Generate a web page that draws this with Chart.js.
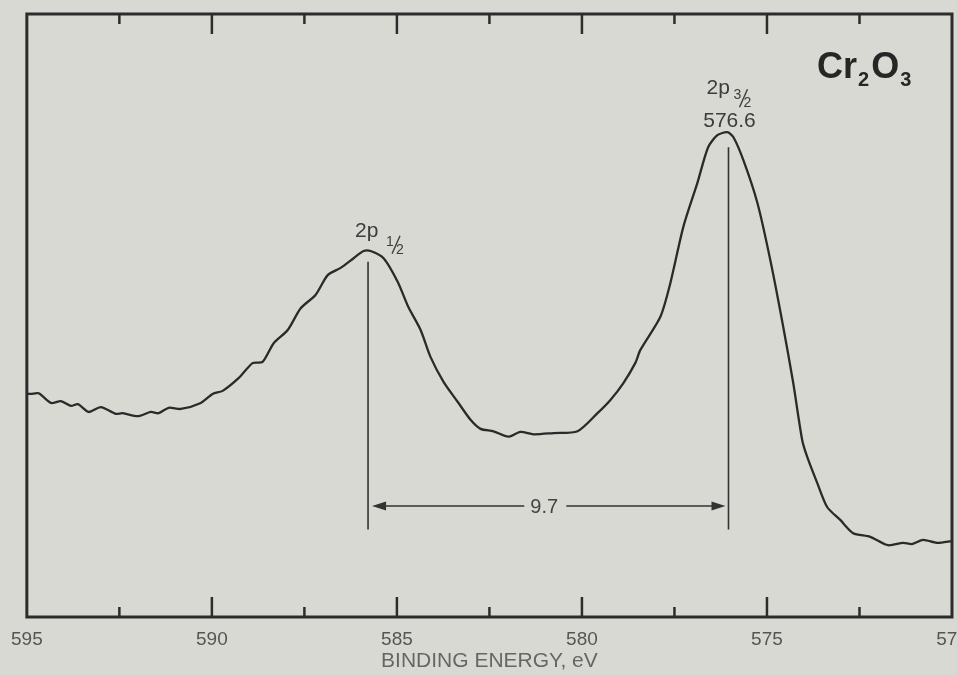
<!DOCTYPE html>
<html><head><meta charset="utf-8">
<script src="https://cdn.jsdelivr.net/npm/chart.js@4"></script>
<style>
html,body{margin:0;padding:0;overflow:hidden;background:#d9d9d4;}
#wrap{width:990px;height:675px;}
</style></head><body>
<div id="wrap"><canvas id="c" width="990" height="675"></canvas></div>
<script>
// Binding energy (eV) and intensity (arbitrary units)
const energy = [595.0,594.89,594.68,594.35,594.08,593.81,593.62,593.33,593.00,592.60,592.41,592.00,591.65,591.44,591.17,590.84,590.30,589.98,589.71,589.28,588.90,588.63,588.33,587.95,587.60,587.20,586.87,586.52,586.17,585.90,585.71,585.36,584.98,584.69,584.36,584.09,583.74,583.36,583.01,582.74,582.39,581.99,581.66,581.31,580.77,580.12,579.58,579.23,578.88,578.56,578.42,577.88,577.61,577.26,576.88,576.59,576.34,576.07,575.91,575.64,575.26,574.91,574.56,574.29,574.05,573.91,573.64,573.37,573.02,572.67,572.21,571.73,571.32,571.08,570.78,570.40,570.0];
const intensity = [37.0,37.0,37.1,35.5,35.8,35.0,35.3,34.0,34.8,33.7,33.8,33.3,34.0,33.8,34.7,34.5,35.5,37.0,37.5,39.6,42.1,42.3,45.4,47.6,51.2,53.4,56.7,57.9,59.5,60.7,60.7,59.5,55.6,51.4,47.6,43.1,39.0,35.7,32.7,31.2,30.8,29.9,30.7,30.3,30.5,30.8,33.8,36.0,38.8,42.1,44.3,49.8,55.4,64.7,72.0,77.9,79.9,80.4,79.6,75.8,68.7,59.2,48.1,38.8,29.4,26.5,22.2,18.2,16.1,13.9,13.3,11.9,12.3,12.1,12.8,12.3,12.6];
const tickLabels = [595,590,585,580,575,570];
const tickMarks = [592.5,590,587.5,585,582.5,580,577.5,575,572.5];
const peakNames = ['2p', '2p'];
const peakFractions = [['1','2'], ['3','2']];
const peakValueLabels = ['', '576.6'];
const peakPositions = [585.78, 576.04];
const peakLineTops = [58.9, 77.9];
const markerBottom = 14.5;
const splitLevel = 18.4;
const splitLabel = '9.7';
const compoundParts = [['Cr',false],['2',true],['O',false],['3',true]];
const axisTitle = 'BINDING ENERGY, eV';

const FONT = '"Liberation Sans", Arial, Helvetica, sans-serif';
const INK = '#2c2c2c';

function drawFrac(ctx, num, den, x, base){
  ctx.font = '14px ' + FONT;
  ctx.textAlign = 'left'; ctx.textBaseline = 'alphabetic';
  ctx.fillText(num, x, base);
  ctx.beginPath(); ctx.lineWidth = 1.4;
  ctx.moveTo(x + 6, base + 8); ctx.lineTo(x + 14, base - 10); ctx.stroke();
  ctx.fillText(den, x + 10, base + 8);
}

const annot = {
  id: 'annot',
  afterDraw(chart){
    const {ctx, chartArea: a, scales: {x, y}} = chart;
    ctx.save();
    ctx.strokeStyle = INK; ctx.lineWidth = 3;
    ctx.strokeRect(a.left, a.top, a.right - a.left, a.bottom - a.top);
    ctx.lineWidth = 2.5;
    tickMarks.forEach(v => {
      const px = x.getPixelForValue(v);
      const len = (v % 5 === 0) ? 20 : 10;
      ctx.beginPath();
      ctx.moveTo(px, a.top); ctx.lineTo(px, a.top + len);
      ctx.moveTo(px, a.bottom); ctx.lineTo(px, a.bottom - len);
      ctx.stroke();
    });
    ctx.strokeStyle = '#333'; ctx.lineWidth = 1.6;
    const px = peakPositions.map(v => x.getPixelForValue(v));
    peakPositions.forEach((v, i) => {
      ctx.beginPath();
      ctx.moveTo(px[i], y.getPixelForValue(peakLineTops[i]));
      ctx.lineTo(px[i], y.getPixelForValue(markerBottom));
      ctx.stroke();
    });
    const ay = y.getPixelForValue(splitLevel);
    const mid = (px[0] + px[1]) / 2;
    const l = Math.min(px[0], px[1]) + 4, r = Math.max(px[0], px[1]) - 3;
    ctx.beginPath();
    ctx.moveTo(l + 10, ay); ctx.lineTo(mid - 24, ay);
    ctx.moveTo(mid + 18, ay); ctx.lineTo(r - 10, ay);
    ctx.stroke();
    ctx.fillStyle = '#333';
    ctx.beginPath(); ctx.moveTo(l, ay); ctx.lineTo(l + 14, ay - 4.5); ctx.lineTo(l + 14, ay + 4.5); ctx.closePath(); ctx.fill();
    ctx.beginPath(); ctx.moveTo(r, ay); ctx.lineTo(r - 14, ay - 4.5); ctx.lineTo(r - 14, ay + 4.5); ctx.closePath(); ctx.fill();
    ctx.fillStyle = '#444';
    ctx.font = '20px ' + FONT; ctx.textAlign = 'center'; ctx.textBaseline = 'middle';
    ctx.fillText(splitLabel, mid - 4, ay + 1);
    ctx.fillStyle = '#3c3c3c'; ctx.strokeStyle = '#3c3c3c';
    {
      const top = y.getPixelForValue(peakLineTops[0]);
      const base = top - 25;
      ctx.font = '21px ' + FONT; ctx.textAlign = 'left'; ctx.textBaseline = 'alphabetic';
      ctx.fillText(peakNames[0], px[0] - 13, base);
      drawFrac(ctx, peakFractions[0][0], peakFractions[0][1], px[0] + 18, base + 9);
    }
    {
      const top = y.getPixelForValue(peakLineTops[1]);
      const base = top - 53;
      ctx.font = '21px ' + FONT; ctx.textAlign = 'left'; ctx.textBaseline = 'alphabetic';
      ctx.fillText(peakNames[1], px[1] - 22, base);
      drawFrac(ctx, peakFractions[1][0], peakFractions[1][1], px[1] + 5, base + 5);
      ctx.font = '21px ' + FONT; ctx.textAlign = 'center';
      ctx.fillText(peakValueLabels[1], px[1] + 1, base + 33);
    }
    let cx = a.right - 135;
    const cb = a.top + 64;
    ctx.fillStyle = '#262626'; ctx.textAlign = 'left'; ctx.textBaseline = 'alphabetic';
    compoundParts.forEach(([t, sub]) => {
      ctx.font = (sub ? 'bold 20px ' : 'bold 36px ') + FONT;
      ctx.fillText(t, cx, sub ? cb + 8 : cb);
      cx += ctx.measureText(t).width + (sub ? 2 : 1);
    });
    ctx.restore();
  }
};

new Chart(document.getElementById('c'), {
  type: 'line',
  data: {
    datasets: [{
      data: energy.map((e, i) => ({x: e, y: intensity[i]})),
      borderColor: '#2a2a2a', borderWidth: 2.3, pointRadius: 0, tension: 0.25, fill: false
    }]
  },
  options: {
    responsive: false, animation: false, devicePixelRatio: 1,
    layout: {padding: {left: 26, right: 38, top: 14, bottom: 0}},
    plugins: {legend: {display: false}, tooltip: {enabled: false}},
    scales: {
      x: {
        type: 'linear', reverse: true, min: 570, max: 595,
        afterBuildTicks: (axis) => { axis.ticks = tickLabels.map(v => ({value: v})); },
        afterFit: (scale) => { scale.height = 58; },
        grid: {display: false, drawTicks: false},
        border: {display: false},
        ticks: {autoSkip: false, maxRotation: 0, padding: 11, color: '#555',
                font: {family: FONT, size: 19}, callback: (v) => String(v)},
        title: {display: true, text: axisTitle, color: '#666',
                font: {family: FONT, size: 21}, padding: {top: 0, bottom: 1}}
      },
      y: {display: false, min: 0, max: 100}
    }
  },
  plugins: [annot]
});
</script>
</body></html>
